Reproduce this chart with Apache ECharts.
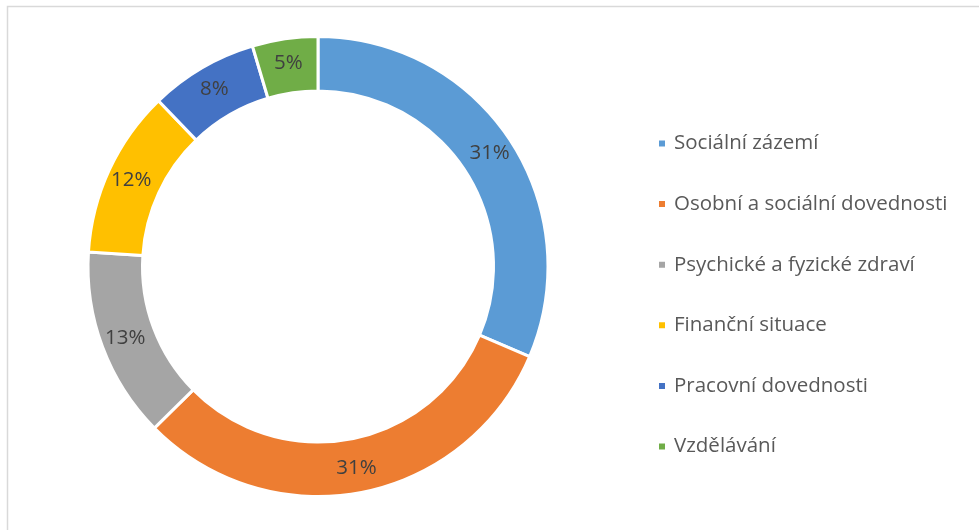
<!DOCTYPE html>
<html>
<head>
<meta charset="utf-8">
<script src="https://cdn.jsdelivr.net/npm/echarts@6/dist/echarts.min.js"></script>
<style>
  html, body { margin: 0; padding: 0; background: #fff; }
  #chart { width: 979px; height: 530px; }
</style>
</head>
<body>
<div id="chart"></div>
<script>
const kategorie = [
  'Sociální zázemí',
  'Osobní a sociální dovednosti',
  'Psychické a fyzické zdraví',
  'Finanční situace',
  'Pracovní dovednosti',
  'Vzdělávání'
];
const podily = [31.4, 31.2, 13.4, 11.8, 7.6, 4.6];
const barvy = ['#5b9bd5', '#ed7d31', '#a5a5a5', '#ffc000', '#4472c4', '#70ad47'];

const chart = echarts.init(document.getElementById('chart'));

const option = {
  animation: false,
  color: barvy,
  graphic: [{
    type: 'rect',
    shape: { x: 7.5, y: 6.5, width: 1000, height: 600 },
    style: { fill: 'none', stroke: '#d9d9d9', lineWidth: 1.5 },
    silent: true
  }],
  legend: {
    orient: 'vertical',
    left: 652,
    top: 128,
    itemWidth: 8,
    itemHeight: 8,
    itemGap: 39.6,
    icon: 'rect',
    textStyle: {
      fontFamily: 'Open Sans',
      fontSize: 20.5,
      lineHeight: 21,
      color: '#595959',
      padding: [0, 0, 0, 3]
    },
    data: kategorie
  },
  series: [{
    type: 'pie',
    center: [318, 266.5],
    radius: [175.5, 230],
    startAngle: 90,
    clockwise: true,
    avoidLabelOverlap: false,
    itemStyle: { borderColor: '#ffffff', borderWidth: 3 },
    label: {
      show: true,
      position: 'inside',
      fontFamily: 'Open Sans',
      fontSize: 20.5,
      color: '#404040',
      formatter: (p) => Math.round(p.percent) + '%'
    },
    labelLine: { show: false },
    emphasis: { disabled: true },
    data: kategorie.map((nazev, i) => ({ name: nazev, value: podily[i] }))
  }]
};

chart.setOption(option);
</script>
</body>
</html>
